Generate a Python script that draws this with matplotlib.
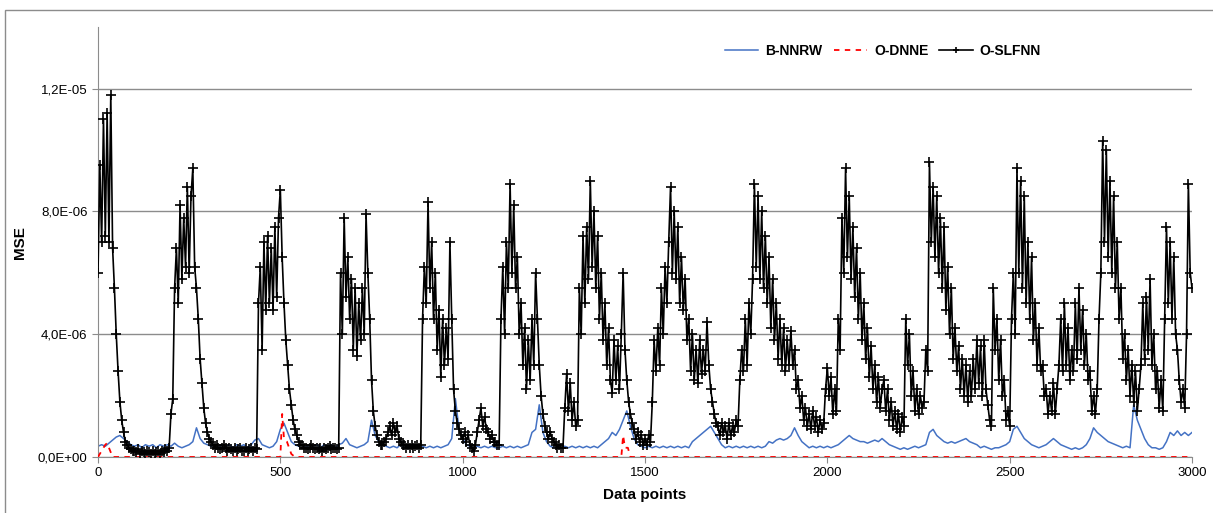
import numpy as np
import matplotlib.pyplot as plt
from matplotlib.patches import Rectangle
from matplotlib.ticker import FuncFormatter

# MSE values in units of 1e-7
# O-SLFNN: one sample every 5 data points (0..3000)
slfnn_step = 5
o_slfnn = [
    60, 95, 70, 110, 72, 112, 70, 118, 68, 55, 40, 28, 18, 12, 8, 5, 4, 3, 2.5, 2,
    2, 1.5, 2.5, 1, 2, 1.5, 1, 2, 1.5, 1, 2, 1, 1.5, 2, 1, 2, 1.5, 2.5, 2, 3,
    14, 19, 55, 68, 50, 82, 58, 78, 62, 88, 60, 85, 94, 62, 55, 45, 32, 24, 16, 11,
    8, 6, 5, 4, 3, 4, 3, 2.5, 3, 4, 3, 2, 3, 2.5, 2, 3, 2, 2.5, 3, 2,
    2, 3, 2, 2.5, 3, 2, 3, 2.5, 50, 62, 35, 70, 48, 72, 50, 68, 48, 75, 52, 78,
    87, 65, 50, 38, 30, 22, 17, 12, 9, 7, 5, 4, 4, 3, 3, 2.5, 3, 4, 3, 2.5,
    3, 2.5, 3, 2, 3, 2.5, 3, 3.5, 2.5, 3, 3, 2.5, 3, 60, 40, 78, 52, 65, 45, 58,
    35, 55, 33, 50, 38, 55, 40, 79, 60, 45, 25, 15, 10, 7, 5, 4, 4, 5, 6, 8,
    10, 7, 11, 8, 10, 6, 5, 4, 4, 3, 4, 3, 4, 3, 3.5, 4, 3, 4, 45, 62,
    50, 83, 55, 70, 45, 60, 35, 48, 26, 45, 30, 42, 32, 70, 45, 22, 15, 11, 9, 7,
    6, 8, 5, 7, 4, 3, 2, 4, 8, 12, 16, 10, 13, 9, 8, 6, 7, 5, 5, 4,
    4, 45, 62, 40, 70, 55, 89, 60, 82, 55, 65, 40, 50, 30, 42, 22, 38, 25, 45, 30,
    60, 45, 30, 20, 14, 10, 8, 6, 8, 6, 5, 4, 3, 4, 3, 3, 16, 27, 15, 24,
    12, 18, 10, 12, 55, 40, 72, 50, 75, 58, 90, 62, 80, 55, 72, 45, 60, 38, 50, 30,
    42, 25, 21, 38, 25, 36, 22, 40, 60, 35, 25, 18, 14, 11, 9, 6, 8, 5, 7, 4,
    6, 4, 7, 5, 18, 38, 28, 42, 30, 55, 40, 62, 50, 70, 88, 60, 80, 58, 75, 50,
    65, 48, 58, 38, 45, 28, 40, 25, 35, 24, 38, 27, 35, 28, 44, 30, 22, 18, 14, 11,
    10, 7, 11, 8, 10, 6, 11, 7, 10, 8, 12, 10, 25, 35, 28, 45, 30, 50, 40, 58,
    89, 62, 85, 58, 80, 55, 72, 50, 65, 42, 58, 38, 50, 32, 45, 30, 42, 28, 38, 30,
    41, 30, 35, 22, 25, 16, 20, 12, 16, 10, 14, 9, 15, 10, 13, 8, 12, 9, 11, 22,
    29, 20, 26, 14, 22, 15, 45, 35, 78, 60, 94, 65, 85, 58, 75, 52, 68, 45, 60, 38,
    50, 32, 42, 26, 36, 22, 30, 18, 26, 16, 22, 25, 15, 22, 12, 18, 10, 15, 9, 14,
    8, 13, 10, 45, 30, 40, 20, 28, 15, 22, 14, 20, 16, 18, 35, 28, 96, 70, 88, 65,
    85, 60, 78, 55, 75, 48, 62, 40, 55, 32, 42, 28, 36, 22, 32, 20, 30, 18, 28, 20,
    32, 22, 38, 24, 36, 20, 38, 22, 17, 12, 10, 55, 35, 45, 25, 38, 20, 25, 12, 15,
    10, 45, 60, 40, 94, 60, 90, 55, 85, 50, 70, 45, 65, 38, 50, 30, 42, 28, 30, 20,
    22, 14, 20, 15, 24, 14, 22, 30, 45, 28, 50, 30, 42, 25, 35, 28, 50, 32, 55, 35,
    48, 30, 40, 25, 28, 15, 20, 14, 22, 45, 60, 103, 70, 100, 65, 90, 60, 85, 55, 70,
    45, 55, 32, 40, 25, 35, 20, 30, 18, 28, 15, 22, 30, 50, 32, 52, 35, 58, 30, 40,
    22, 28, 16, 25, 15, 45, 75, 50, 70, 45, 65, 40, 35, 25, 18, 22, 16, 40, 89, 60,
    55,
]
# B-NNRW: one sample every 10 data points
nnrw_step = 10
b_nnrw = [
    3.5, 4, 3.5, 4.5, 5.5, 6.5, 7, 6, 5, 4,
    3.5, 4, 3, 4, 3.5, 4, 3, 4, 3.5, 4,
    3.5, 4.5, 3.5, 3, 3.5, 4, 5, 9.5, 6, 4.5,
    4, 3.5, 4, 3, 4, 3.5, 4, 3, 4, 3.5,
    4, 3, 4, 5.5, 6, 4, 3.5, 3, 3.5, 5,
    9, 11, 8, 5, 4, 3.5, 4, 3, 4, 3.5,
    4, 3, 4, 3.5, 4, 3, 4, 4.5, 6, 4,
    3.5, 3, 3.5, 4, 5, 12, 7, 5, 4, 3.5,
    3, 3.5, 3, 4, 3, 3.5, 3, 3.5, 3, 3.5,
    3, 3.5, 3, 3.5, 3, 3.5, 4, 6, 19, 9,
    6, 4, 3.5, 3, 3.5, 3, 3.5, 3, 3.5, 3,
    3, 3.5, 3, 3.5, 3, 3.5, 3, 3.5, 4, 8,
    9, 17, 8, 5, 3.5, 3, 3.5, 3, 3.5, 3,
    3.5, 3, 3.5, 3, 3.5, 3, 3.5, 3, 4, 5,
    6, 8, 7, 9, 12, 15, 10, 6, 4, 3.5,
    3, 3.5, 3, 3.5, 3, 3.5, 3, 3.5, 3, 3.5,
    3, 3.5, 3, 5, 6, 7, 8, 9, 10, 8,
    6, 4, 3, 3.5, 3, 3.5, 3, 3.5, 3, 3.5,
    3, 3.5, 3, 3.5, 5, 4.5, 5.5, 6, 5.5, 6,
    7, 9.5, 7, 5, 4, 3, 3.5, 3, 3.5, 3,
    3.5, 3, 3.5, 4, 5, 6, 7, 6, 5.5, 5,
    5, 4.5, 5, 5.5, 5, 6, 5, 4, 3.5, 3,
    2.5, 3, 2.5, 3, 3.5, 3, 3.5, 4, 8, 9,
    7, 6, 5, 4.5, 5, 4.5, 5, 5.5, 6, 5,
    4.5, 4, 3, 3.5, 3, 2.5, 3, 3, 3.5, 4,
    5, 9, 10, 8, 6, 5, 4, 3.5, 3, 3.5,
    4, 5, 6, 5, 4, 3.5, 3, 2.5, 3, 2.5,
    3, 4, 6, 9.5, 8, 7, 6, 5, 4.5, 4,
    3.5, 3, 3.5, 3, 17, 12, 9, 6, 4, 3,
    3, 2.5, 3, 5, 8, 7, 8.5, 7, 8, 7,
    8,
]
# O-DNNE is zero except for a few short spikes
o_dnne_x = [0, 10, 20, 25, 30, 40, 500, 505, 510, 518, 530, 540,
            1435, 1440, 1445, 1453, 1460, 3000]
o_dnne_y = [0, 2, 4, 4.5, 3, 0, 0, 14, 6, 5, 1, 0,
            0, 7, 3, 3, 0, 0]

unit = 1e-7
x_slfnn = np.arange(len(o_slfnn)) * slfnn_step
x_nnrw = np.arange(len(b_nnrw)) * nnrw_step

plt.rcParams['font.family'] = ['Liberation Sans', 'DejaVu Sans']
fig = plt.figure(figsize=(12.13, 5.13), dpi=100)
ax = fig.add_axes([0.0808, 0.1092, 0.9019, 0.8378])

ax.plot(x_nnrw, np.array(b_nnrw) * unit, color='#4472C4', lw=1.1, label='B-NNRW', zorder=2)
ax.plot(o_dnne_x, np.array(o_dnne_y) * unit, color='#FF0000', lw=1.3, ls=(0, (3, 3)),
        label='O-DNNE', zorder=3)
ax.plot(x_slfnn, np.array(o_slfnn) * unit, color='black', lw=1.2, marker='+',
        markersize=6.5, markeredgewidth=1.2, label='O-SLFNN', zorder=4)

ax.set_xlim(0, 3000)
ax.set_ylim(0, 1.4e-5)
ax.set_xticks(np.arange(0, 3001, 500))
ax.set_yticks([0, 4e-6, 8e-6, 1.2e-5])
ax.yaxis.set_major_formatter(FuncFormatter(lambda v, p: f"{v:.1E}".replace('.', ',')))
ax.grid(axis='y', color='#8c8c8c', lw=1.0)
ax.set_axisbelow(True)
for s in ['top', 'right']:
    ax.spines[s].set_visible(False)
for s in ['left', 'bottom']:
    ax.spines[s].set_color('#8c8c8c')
ax.tick_params(axis='both', colors='#8c8c8c', labelcolor='black', labelsize=9.5, length=4, direction='out')
ax.set_xlabel('Data points', fontsize=11, fontweight='bold', labelpad=6)
ax.set_ylabel('MSE', fontsize=11, fontweight='bold', labelpad=8)

fig.legend(loc='center', bbox_to_anchor=(0.728, 0.90), ncol=3, frameon=False,
           prop={'weight': 'bold', 'size': 10}, handlelength=2.4, columnspacing=0.8,
           handletextpad=0.5, markerscale=0.6)

fig.add_artist(Rectangle((5 / 1213, -0.1), 1.2, 0.1 + 1 - 10 / 513, transform=fig.transFigure,
                         fill=False, edgecolor='#8c8c8c', lw=1.0))

fig.savefig('out.png', dpi=100)
